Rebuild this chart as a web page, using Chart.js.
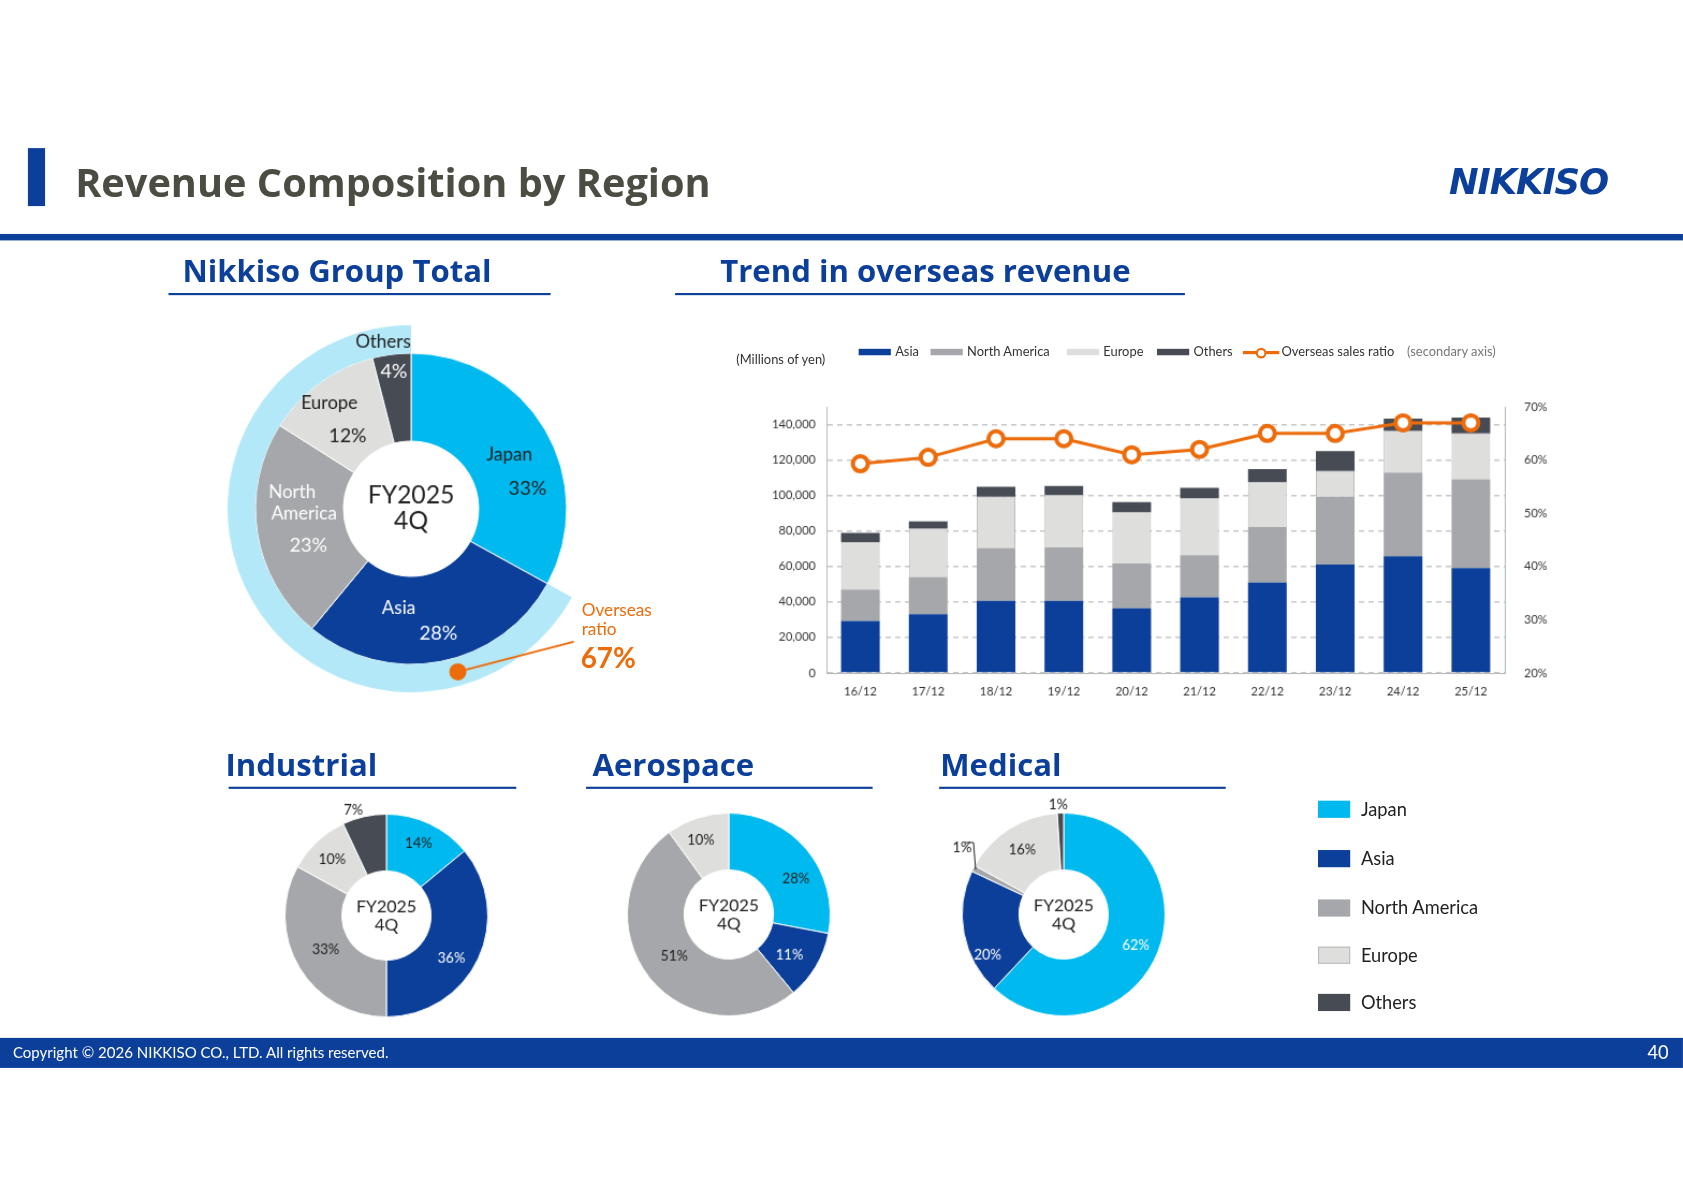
<!DOCTYPE html>
<html><head><meta charset="utf-8">
<script src="https://cdn.jsdelivr.net/npm/chart.js@4"></script>
<style>
body{margin:0;width:1683px;height:1190px;background:#fff;font-family:Lato,"Open Sans",sans-serif;overflow:hidden}
#wrap{position:absolute;left:0;top:0;width:1568px;height:1109px;transform:scale(1.0733);transform-origin:0 0}
.a{position:absolute;white-space:nowrap}
.sec{position:absolute;color:#0b3f99;font-weight:bold;font-size:29px;font-family:"Open Sans",Lato,sans-serif}
.ul{position:absolute;height:2px;background:#0b3f99}
canvas{position:absolute}
.lg{position:absolute;font-size:12px;color:#333;display:flex;align-items:center}
.sw{display:inline-block;width:30px;height:6px;margin-right:4px}
.bl{position:absolute;font-size:17px;color:#222;display:flex;align-items:center}
.bs{display:inline-block;width:30px;height:16px;margin-right:10px}
</style></head><body><div id="wrap">
<div class="a" style="left:26px;top:138px;width:16px;height:54px;background:#0b3f99"></div>
<div class="a" style="left:70px;top:144px;font-size:37px;font-weight:bold;color:#4b4c42;font-family:'Open Sans',sans-serif">Revenue Composition by Region</div>
<div class="a" style="left:1350px;top:150px;font-size:33px;font-weight:900;font-style:italic;color:#0b3f99;font-family:'DejaVu Sans',sans-serif;letter-spacing:-1px">NIKKISO</div>
<div class="a" style="left:0;top:218px;width:1568px;height:6px;background:#0b3f99"></div>

<div class="sec" style="left:170px;top:232px">Nikkiso Group Total</div>
<div class="ul" style="left:157px;top:273px;width:356px"></div>
<div class="sec" style="left:671px;top:232px">Trend in overseas revenue</div>
<div class="ul" style="left:629px;top:273px;width:475px"></div>
<div class="sec" style="left:210px;top:692px">Industrial</div>
<div class="ul" style="left:213px;top:733px;width:268px"></div>
<div class="sec" style="left:552px;top:692px">Aerospace</div>
<div class="ul" style="left:546px;top:733px;width:267px"></div>
<div class="sec" style="left:876px;top:692px">Medical</div>
<div class="ul" style="left:875px;top:733px;width:267px"></div>

<div class="a" style="left:542px;top:559px;color:#ec6c0c;font-size:16px;line-height:18px">Overseas<br>ratio</div>
<div class="a" style="left:541px;top:596px;color:#ec6c0c;font-size:26px;font-weight:bold">67%</div>

<div class="a" style="left:686px;top:327px;font-size:12px;color:#333">(Millions of yen)</div>
<div id="leg"></div>
<div id="bleg"></div>

<div class="a" style="left:0;top:967px;width:1568px;height:28px;background:#0b3f99"></div>
<div class="a" style="left:12px;top:972px;color:#fff;font-size:14px">Copyright © 2026 NIKKISO CO., LTD. All rights reserved.</div>
<div class="a" style="left:1535px;top:970px;color:#fff;font-size:17px">40</div>

<canvas id="main" width="420" height="420" style="left:173px;top:264px"></canvas>
<canvas id="bar" width="760" height="370" style="left:690px;top:300px"></canvas>
<canvas id="ind" width="260" height="260" style="left:230px;top:723px"></canvas>
<canvas id="aer" width="260" height="260" style="left:549px;top:722px"></canvas>
<canvas id="med" width="260" height="260" style="left:861px;top:722px"></canvas>
</div>
<script>
const regions=["Japan","Asia","North America","Europe","Others"];
const regionColors=["#00b9ef","#0b3f99","#a5a7aa","#dededc","#474b54"];
const groupShare=[33,28,23,12,4];
const overseasShare=[33,67];
const industrialShare=[14,36,33,10,7];
const aerospaceShare=[28,11,51,10,0];
const medicalShare=[62,20,1,16,1];
const years=["16/12","17/12","18/12","19/12","20/12","21/12","22/12","23/12","24/12","25/12"];
const asiaRev=[29300,33100,40600,40600,36400,42600,51000,61100,65800,59100];
const naRev=[17800,21100,29900,30200,25300,23800,31200,38200,47100,50000];
const euRev=[26500,27100,28900,29600,28800,32100,25300,14500,23500,25900];
const othRev=[5300,4100,5600,5000,5800,5800,7400,11200,7000,9000];
const overseasRatio=[59.3,60.5,64,64,61,62,65,65,67,67];
const revTicks=[0,20000,40000,60000,80000,100000,120000,140000];

Chart.defaults.font.family="Lato, 'Open Sans', sans-serif";

const labelPlugin={id:'lbl',afterDraw(c,a,o){
 const ctx=c.ctx;const meta=c.getDatasetMeta(o.ds||0);
 (o.items||[]).forEach((it,i)=>{ if(!it)return; const arc=meta.data[i]; const p=arc.tooltipPosition();
  it.forEach(l=>{ctx.save();ctx.font=(l.w||'normal')+' '+(l.s||15)+'px Lato, sans-serif';ctx.fillStyle=l.c||'#222';ctx.textAlign='center';ctx.textBaseline='middle';ctx.fillText(l.t,p.x+l.x,p.y+l.y);ctx.restore();});
 });
 const ar=c.chartArea;const cx=(ar.left+ar.right)/2,cy=(ar.top+ar.bottom)/2;
 if(o.center){ctx.save();ctx.font=(o.cs||16)+'px Lato, sans-serif';ctx.fillStyle='#222';ctx.textAlign='center';ctx.textBaseline='middle';
  o.center.forEach((t,k)=>ctx.fillText(t,cx,cy+(k-(o.center.length-1)/2)*(o.cs||16)*1.05));ctx.restore();}
 if(o.dot){const r=o.dot.r,ang=o.dot.a*Math.PI/180;const x=cx+r*Math.sin(ang),y=cy-r*Math.cos(ang);
  ctx.save();ctx.strokeStyle='#ec6c0c';ctx.lineWidth=2;ctx.beginPath();ctx.moveTo(x,y);ctx.lineTo(x+o.dot.lx,y+o.dot.ly);ctx.stroke();
  ctx.fillStyle='#ec6c0c';ctx.beginPath();ctx.arc(x,y,8,0,Math.PI*2);ctx.fill();ctx.restore();}
 if(o.leader){ctx.save();ctx.strokeStyle='#222';ctx.lineWidth=1;ctx.beginPath();o.leader.forEach((p,k)=>{const X=cx+p[0],Y=cy+p[1];k?ctx.lineTo(X,Y):ctx.moveTo(X,Y)});ctx.stroke();ctx.restore();}
}};

new Chart(document.getElementById('main'),{type:'doughnut',plugins:[labelPlugin],
 data:{labels:["Domestic","Overseas"],datasets:[
  {data:overseasShare,backgroundColor:['rgba(0,0,0,0)','#b3e8f8'],borderWidth:0,weight:26},
  {data:groupShare,backgroundColor:regionColors,borderWidth:1,borderColor:'#fff',weight:82}]},
 options:{responsive:false,animation:false,cutout:63,layout:{padding:39},plugins:{legend:{display:false},tooltip:{enabled:false},
  lbl:{ds:1,center:["FY2025","4Q"],cs:23,dot:{r:158,a:164,lx:108,ly:-28},items:[
   [{t:"Japan",x:2,y:2,s:17},{t:"33%",x:19,y:34,s:18}],
   [{t:"Asia",x:-31,y:-10,s:17,c:'#fff'},{t:"28%",x:6,y:14,s:18,c:'#fff'}],
   [{t:"North",x:-8,y:-32,s:17,c:'#fff'},{t:"America",x:3,y:-12,s:17,c:'#fff'},{t:"23%",x:7,y:18,s:18,c:'#fff'}],
   [{t:"Europe",x:-15,y:-14,s:17},{t:"12%",x:2,y:16,s:18}],
   [{t:"Others",x:-13,y:-52,s:17},{t:"4%",x:-3,y:-25,s:18,c:'#fff'}]]}}}});

function small(id,data,items,extra){
 new Chart(document.getElementById(id),{type:'doughnut',plugins:[labelPlugin],
 data:{labels:regions,datasets:[{data,backgroundColor:regionColors,borderWidth:1,borderColor:'#fff'}]},
 options:{responsive:false,animation:false,cutout:'44%',layout:{padding:35},plugins:{legend:{display:false},tooltip:{enabled:false},
  lbl:Object.assign({center:["FY2025","4Q"],cs:16,items},extra||{})}}});
}
small('ind',industrialShare,[[{t:"14%",x:1,y:-6,s:13}],[{t:"36%",x:-1,y:11,s:13,c:'#fff'}],[{t:"33%",x:2,y:-3,s:13}],[{t:"10%",x:-4,y:-3,s:13}],[{t:"7%",x:-16,y:-32,s:13}]]);
small('aer',aerospaceShare,[[{t:"28%",x:10,y:10,s:13}],[{t:"11%",x:-2,y:3,s:13,c:'#fff'}],[{t:"51%",x:3,y:-3,s:13}],[{t:"10%",x:-5,y:-4,s:13}],null]);
small('med',medicalShare,[[{t:"62%",x:4,y:4,s:13,c:'#fff'}],[{t:"20%",x:-4,y:25,s:13,c:'#fff'}],[{t:"1%",x:-34,y:-31,s:13}],[{t:"16%",x:-2,y:-3,s:13}],[{t:"1%",x:-3,y:-34,s:13}]],
 {leader:[[-92,-67],[-84,-67],[-82,-42]]});

new Chart(document.getElementById('bar'),{
 data:{labels:years,datasets:[
  {type:'line',label:'Overseas sales ratio',data:overseasRatio,yAxisID:'y2',borderColor:'#ec6c0c',borderWidth:3,pointRadius:7,pointBorderWidth:4,pointBackgroundColor:'#fff',pointBorderColor:'#ec6c0c',order:0},
  {type:'bar',label:'Asia',data:asiaRev,backgroundColor:'#0b3f99',order:1},
  {type:'bar',label:'North America',data:naRev,backgroundColor:'#a5a7aa',order:1},
  {type:'bar',label:'Europe',data:euRev,backgroundColor:'#dededc',borderColor:'#bdbdbd',borderWidth:1,order:1},
  {type:'bar',label:'Others',data:othRev,backgroundColor:'#474b54',order:1}]},
 options:{responsive:false,animation:false,layout:{padding:{top:79,left:0,right:0,bottom:0}},
  datasets:{bar:{barPercentage:0.57,categoryPercentage:1}},
  plugins:{legend:{display:false},tooltip:{enabled:false}},
  scales:{
   x:{stacked:true,grid:{display:false},border:{color:'#bbb'},ticks:{color:'#333',font:{size:11}},afterFit(s){s.height=43}},
   y:{stacked:true,min:0,max:150000,grid:{color:'#c8c8c8',lineWidth:1.5,drawTicks:false},border:{color:'#bbb',dash:[5,4]},
    ticks:{color:'#333',font:{size:11},padding:10,callback:v=>v.toLocaleString('en-US')},
    afterBuildTicks(s){s.ticks=revTicks.map(v=>({value:v}))},afterFit(s){s.width=80}},
   y2:{position:'right',min:20,max:70,grid:{display:false},border:{color:'#bbb'},ticks:{stepSize:10,color:'#333',font:{size:11},padding:10,callback:v=>v+'%'},afterFit(s){s.width=48}}
  }}});

const legItems=[["Asia","#0b3f99",800],["North America","#a5a7aa",867],["Europe","#dededc",994],["Others","#474b54",1078]];
let h='';legItems.forEach(l=>{h+=`<div class="lg" style="left:${l[2]}px;top:320px"><span class="sw" style="background:${l[1]}"></span>${l[0]}</div>`});
h+=`<div class="lg" style="left:1158px;top:320px"><span style="position:relative;display:inline-block;width:34px;height:14px;margin-right:2px"><span style="position:absolute;left:0;top:6px;width:34px;height:3px;background:#ec6c0c"></span><span style="position:absolute;left:12px;top:3px;width:6px;height:6px;border:2px solid #ec6c0c;border-radius:50%;background:#fff"></span></span>Overseas sales ratio<span style="color:#777;margin-left:12px">(secondary axis)</span></div>`;
document.getElementById('leg').innerHTML=h;
const bTops=[745,791,837,881,925];let b='';
regions.forEach((r,i)=>{b+=`<div class="bl" style="left:1228px;top:${bTops[i]-2}px"><span class="bs" style="background:${regionColors[i]};${i==3?'border:1px solid #bbb;box-sizing:border-box':''}"></span>${r}</div>`});
document.getElementById('bleg').innerHTML=b;
</script></body></html>
